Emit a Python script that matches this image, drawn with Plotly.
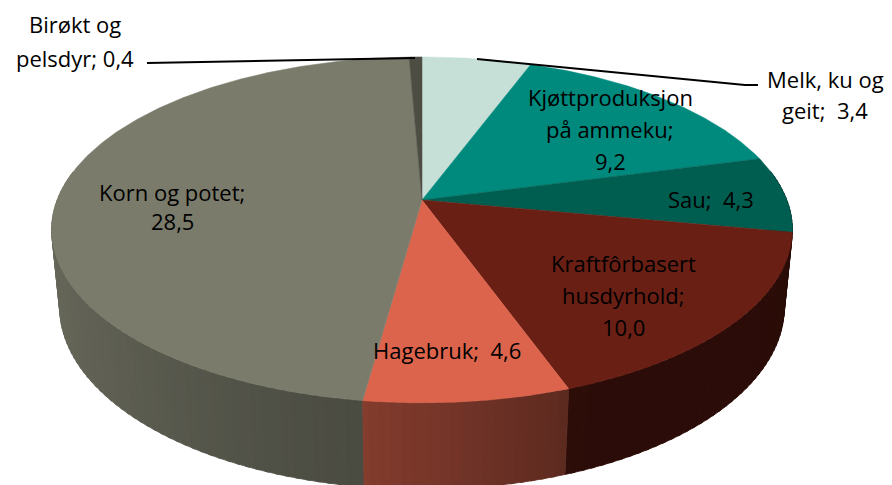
import numpy as np
import plotly.graph_objects as go

# ---------------- data ----------------
categories = ["Melk, ku og geit", "Kjøttproduksjon på ammeku", "Sau",
              "Kraftfôrbasert husdyrhold", "Hagebruk", "Korn og potet",
              "Birøkt og pelsdyr"]
values = [3.4, 9.2, 4.3, 10.0, 4.6, 28.5, 0.4]
colors = ["#c6e0d7", "#008a7e", "#005e50", "#6a1f15", "#dc644c", "#7a7b6b", "#4d4d44"]
# label text lines ({v} is replaced with the value, Norwegian decimal comma)
label_lines = [
    ["Melk, ku og", "geit;  {v}"],
    ["Kjøttproduksjon", "på ammeku;", "{v}"],
    ["Sau;  {v}"],
    ["Kraftfôrbasert", "husdyrhold;", "{v}"],
    ["Hagebruk;  {v}"],
    ["Korn og potet;", "{v}"],
    ["Birøkt og", "pelsdyr; {v}"],
]

# ---------------- layout / styling (pixel space) ----------------
W, HGT = 892, 485
label_pos = [  # (center x, first line center y, line spacing)
    (825, 79, 31),
    (610, 97, 32),
    (711, 199, 32),
    (623, 263, 32),
    (447, 350, 32),
    (172, 192, 29),
    (75, 24, 34),
]
leaders = [
    [(477, 59), (745, 85), (758, 85)],   # Melk
    None, None, None, None, None,
    [(147, 63), (415, 58)],              # Birøkt
]

# perspective projection of a tilted disc
F, D, S = 1875.0, 5.14, 0.46
C = np.sqrt(1 - S * S)
THICK = 0.24
CX, CY = 422.0, 200.0


def proj(theta, r, z):
    X = r * np.sin(theta)
    Y = r * np.cos(theta)
    depth = D + Y * C - z * S
    return CX + F * X / depth, CY - F * (Y * S + z * C) / depth


def hex2rgb(h):
    h = h.lstrip("#")
    return np.array([int(h[i:i + 2], 16) for i in (0, 2, 4)], dtype=float)


def shade(hexcol, k):
    r, g, b = np.clip(hex2rgb(hexcol) * k, 0, 255).astype(int)
    return f"rgb({r},{g},{b})"


def side_factor(theta_deg):
    return np.interp(theta_deg, [90, 160, 190, 230, 275], [0.40, 0.42, 0.62, 0.78, 0.90])


total = sum(values)
bounds = np.concatenate([[0], np.cumsum(values)]) / total * 2 * np.pi

fig = go.Figure()

# ---- outer side (front half), split into strips for shading ----
strips = []
lo, hi = np.radians(80), np.radians(280)
OVER = np.radians(0.6)
for i, col in enumerate(colors):
    a, b = max(bounds[i], lo), min(bounds[i + 1], hi)
    if b <= a:
        continue
    n = max(1, int(np.ceil(np.degrees(b - a) / 1.5)))
    edges = np.linspace(a, b, n + 1)
    for k, (t0, t1) in enumerate(zip(edges[:-1], edges[1:])):
        t1e = t1 + OVER if k < n - 1 else t1
        th = np.linspace(t0, t1e, 4)
        xt, yt = proj(th, 1.0, 0.0)
        xb, yb = proj(th[::-1], 1.0, -THICK)
        xs = np.concatenate([xt, xb, xt[:1]])
        ys = np.concatenate([yt, yb, yt[:1]])
        tm = 0.5 * (t0 + t1)
        depth = D + np.cos(tm) * C
        strips.append((depth, xs, ys, shade(col, side_factor(np.degrees(tm)))))

strips.sort(key=lambda s: -s[0])
for _, xs, ys, c in strips:
    fig.add_trace(go.Scatter(x=xs, y=ys, mode="lines", fill="toself", fillcolor=c,
                             line=dict(color=c, width=0.8), hoverinfo="skip",
                             showlegend=False))

# ---- top faces ----
for i, (cat, col) in enumerate(zip(categories, colors)):
    th = np.linspace(bounds[i], bounds[i + 1], max(3, int(np.degrees(bounds[i + 1] - bounds[i]) * 2)))
    xa, ya = proj(th, 1.0, 0.0)
    x0, y0 = proj(0.0, 0.0, 0.0)
    xs = np.concatenate([[x0], xa, [x0]])
    ys = np.concatenate([[y0], ya, [y0]])
    fig.add_trace(go.Scatter(x=xs, y=ys, mode="lines", fill="toself", fillcolor=col,
                             line=dict(color=col, width=0.5), name=cat,
                             hoverinfo="name", showlegend=False))

# ---- labels ----
FONT = dict(family="'Open Sans', Calibri, Lato, sans-serif", size=22, color="#000000")
for i, lines in enumerate(label_lines):
    vtxt = f"{values[i]:.1f}".replace(".", ",")
    cx, cy, dy = label_pos[i]
    for j, ln in enumerate(lines):
        fig.add_annotation(x=cx, y=cy + j * dy, xref="x", yref="y",
                           text=ln.replace("{v}", vtxt), showarrow=False,
                           xanchor="center", yanchor="middle", font=FONT)
    if leaders[i]:
        pts = leaders[i]
        path = "M " + " L ".join(f"{px},{py}" for px, py in pts)
        fig.add_shape(type="path", path=path, xref="x", yref="y",
                      line=dict(color="black", width=2))

fig.update_xaxes(range=[0, W], visible=False, fixedrange=True)
fig.update_yaxes(range=[HGT, 0], visible=False, fixedrange=True)
fig.update_layout(width=W, height=HGT, margin=dict(l=0, r=0, t=0, b=0),
                  paper_bgcolor="white", plot_bgcolor="white")

fig.write_html("out.html", config={"displayModeBar": False},
               post_script="document.body.style.margin='0';")
